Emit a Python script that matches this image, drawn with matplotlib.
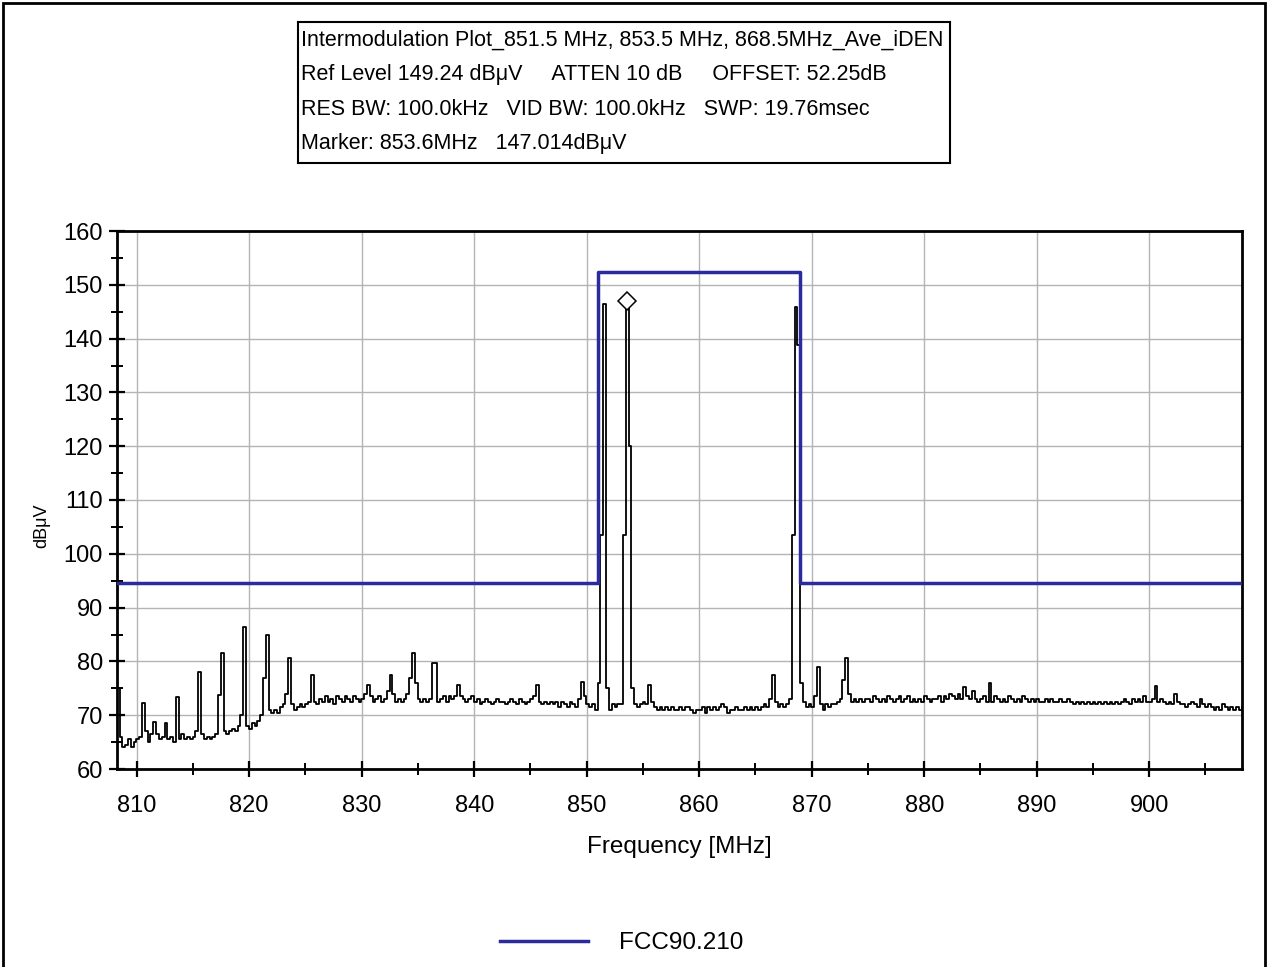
import numpy as np
import matplotlib
matplotlib.use("Agg")
import matplotlib.pyplot as plt
from matplotlib.patches import Rectangle

plt.rcParams['font.family'] = ['Liberation Sans', 'DejaVu Sans']

# sweep: 0.25 MHz bins starting at 808.1 MHz, levels in dBuV (4 bins per MHz row)
trace_start = 808.1
trace_step = 0.25
trace_level = [
    66, 75, 66, 64,             # 808
    64.5, 65.5, 64, 65,         # 809
    65.5, 66, 72.3, 67,         # 810
    65, 66.5, 68.7, 66.5,       # 811
    65.5, 66, 68.5, 65.5,       # 812
    66, 65, 73.4, 65.5,         # 813
    66.5, 65.5, 66, 65.5,       # 814
    66, 67, 78, 66.5,           # 815
    65.5, 66, 65.5, 66,         # 816
    66.5, 73.8, 81.5, 67,       # 817
    66.5, 67, 67.5, 67,         # 818
    68, 70, 86.4, 68,           # 819
    67.5, 68.5, 68, 69,         # 820
    70, 77, 84.9, 71,           # 821
    70.5, 71, 70.5, 71.5,       # 822
    72, 74, 80.6, 72,           # 823
    71, 71.5, 72, 71.5,         # 824
    72, 72.5, 77.5, 72.5,       # 825
    72, 73, 72.5, 73.5,         # 826
    72.5, 73, 72, 73.5,         # 827
    73, 72.5, 73.5, 73,         # 828
    72.5, 73.5, 73, 72.5,       # 829
    73, 74, 75.6, 73.5,         # 830
    72.5, 73, 73.5, 72.5,       # 831
    73, 74.5, 77.5, 74,         # 832
    72.5, 73, 72.5, 73,         # 833
    74, 77, 81.5, 76,           # 834
    73, 72.5, 73, 72.5,         # 835
    73, 79.7, 79.7, 72.5,       # 836
    73, 73.5, 72.5, 73.5,       # 837
    73, 73.5, 75.6, 73.5,       # 838
    73, 72.5, 73, 73.5,         # 839
    72.5, 73, 72, 72.5,         # 840
    73, 72.5, 72, 72.5,         # 841
    73, 72.5, 72.5, 72,         # 842
    72.5, 73, 72.5, 72,         # 843
    73, 72.5, 72, 72.5,         # 844
    73, 73.5, 75.6, 72.5,       # 845
    72, 72.5, 72, 72.5,         # 846
    72, 72.5, 71.5, 72.5,       # 847
    72, 71.5, 72.5, 72,         # 848
    71.5, 73, 76.2, 73.5,       # 849
    72, 71.5, 72, 71,           # 850
    76, 103.5, 146.5, 75,       # 851
    71, 72, 71.5, 72,           # 852
    72, 103.5, 147.014, 120,    # 853
    75, 72, 71.5, 72,           # 854
    72.5, 72, 75.6, 72.5,       # 855
    71.5, 71, 71.5, 71,         # 856
    71.5, 71, 71.5, 71,         # 857
    71, 71.5, 71, 71.5,         # 858
    71.5, 71, 70.5, 71,         # 859
    71, 71.5, 70.5, 71.5,       # 860
    71, 71.5, 71, 71.5,         # 861
    72, 71.5, 70.5, 71,         # 862
    71, 71.5, 71, 71,           # 863
    71.5, 71, 71.5, 71,         # 864
    71.5, 71, 71.5, 72,         # 865
    71.5, 73, 77.5, 72.5,       # 866
    71.5, 72, 71.5, 72,         # 867
    73, 103.5, 145.9, 138.8,    # 868
    76, 72.5, 71.5, 72,         # 869
    71.5, 73.5, 79, 72,         # 870
    71, 72, 71.5, 72,           # 871
    72, 72.5, 73, 76.5,         # 872
    80.6, 74, 72.5, 73,         # 873
    72.5, 73, 72.5, 73,         # 874
    73, 72.5, 73.5, 73,         # 875
    72.5, 73, 72.5, 73.5,       # 876
    73, 72.5, 73, 73.5,         # 877
    72.5, 73, 73.5, 72.5,       # 878
    73, 72.5, 73, 72.5,         # 879
    73.5, 73, 72.5, 73,         # 880
    73, 73.5, 72.5, 73.5,       # 881
    73, 74, 73.5, 73,           # 882
    74, 73, 75.2, 73.5,         # 883
    73, 74.5, 73, 72.5,         # 884
    73, 73.5, 72.5, 76,         # 885
    72.5, 73.5, 73, 72.5,       # 886
    73, 72.5, 73.5, 73,         # 887
    72.5, 73, 72.5, 73.5,       # 888
    73, 72.5, 73, 72.5,         # 889
    73, 72.5, 72.5, 73,         # 890
    72.5, 73, 72.5, 72.5,       # 891
    73, 72.5, 72.5, 73,         # 892
    72.5, 72, 72.5, 72,         # 893
    72.5, 72, 72.5, 72,         # 894
    72.5, 72, 72.5, 72,         # 895
    72.5, 72, 72.5, 72,         # 896
    72.5, 72, 72.5, 73,         # 897
    72.5, 72, 73, 72.5,         # 898
    73, 72.5, 73.5, 72.5,       # 899
    72.5, 73, 75.5, 72.5,       # 900
    73, 72.5, 72, 72.5,         # 901
    72, 74, 72.5, 72,           # 902
    72, 71.5, 72, 72.5,         # 903
    72, 71.5, 73, 72,           # 904
    71.5, 72, 71.5, 71,         # 905
    71.5, 71, 72, 71.5,         # 906
    71, 71.5, 71, 71.5,         # 907
    71, 71.5,                   # 908
]
trace_freq = np.round(trace_start + trace_step * np.arange(len(trace_level)), 3)

# FCC 90.210 emission mask
limit_freq = [808.25, 851.0, 851.0, 869.0, 869.0, 908.25]
limit_level = [94.5, 94.5, 152.3, 152.3, 94.5, 94.5]

marker_freq = 853.6
marker_level = 147.014

header_lines = [
    "Intermodulation Plot_851.5 MHz, 853.5 MHz, 868.5MHz_Ave_iDEN",
    "Ref Level 149.24 dB\u03bcV     ATTEN 10 dB     OFFSET: 52.25dB",
    "RES BW: 100.0kHz   VID BW: 100.0kHz   SWP: 19.76msec",
    "Marker: 853.6MHz   147.014dB\u03bcV",
]

fig = plt.figure(figsize=(12.69, 9.67), dpi=100)
ax = fig.add_axes([117 / 1269, 1 - 769 / 967, (1242 - 117) / 1269, (769 - 231) / 967])

ax.plot(trace_freq, trace_level, color='black', lw=1.3, drawstyle='steps-mid', zorder=3)
lim_line, = ax.plot(limit_freq, limit_level, color='#2b2b9c', lw=2.5,
                    solid_joinstyle='round', zorder=4, label='FCC90.210')
ax.plot([marker_freq], [marker_level], marker='D', ms=9, mfc='white',
        mec='black', mew=1.1, ls='none', zorder=5)

ax.set_xlim(808.25, 908.25)
ax.set_ylim(60, 160)
ax.set_xticks(np.arange(810, 901, 10))
ax.set_xticks(np.arange(815, 906, 10), minor=True)
ax.set_yticks(np.arange(60, 161, 10))
ax.set_yticks(np.arange(65, 160, 10), minor=True)
ax.grid(True, which='major', color='#b4b4b4', lw=1.0, zorder=0)

for s in ax.spines.values():
    s.set_linewidth(2.0)
ax.tick_params(which='major', direction='inout', length=12, width=1.6, labelsize=17)
ax.tick_params(axis='x', which='major', pad=13)
ax.tick_params(axis='y', which='major', pad=4)
ax.tick_params(which='minor', direction='inout', length=9, width=1.4)

ax.set_xlabel("Frequency [MHz]", fontsize=17.5)
ax.xaxis.set_label_coords(0.5, -0.124)
ax.set_ylabel("dB\u03bcV", fontsize=13)
ax.yaxis.set_label_coords(-0.059, 0.453)

# info box above the plot
box_ax = fig.add_axes([298 / 1269, 1 - 163 / 967, (950 - 298) / 1269, (163 - 22) / 967])
box_ax.set_xticks([])
box_ax.set_yticks([])
for s in box_ax.spines.values():
    s.set_linewidth(1.5)
for i, line in enumerate(header_lines):
    box_ax.text(0.004, 0.87 - i * 0.245, line, fontsize=15.5, va='center',
                ha='left', transform=box_ax.transAxes)

fig.legend(handles=[lim_line], loc='center', bbox_to_anchor=(622 / 1269, 1 - 943 / 967),
           frameon=False, fontsize=17.5, handlelength=3.6, handletextpad=1.3)

# outer frame
fig.patches.append(Rectangle((0.002, -0.01), 0.995, 1.007, transform=fig.transFigure,
                             fill=False, ec='black', lw=2))

fig.savefig("out.png", dpi=100)
